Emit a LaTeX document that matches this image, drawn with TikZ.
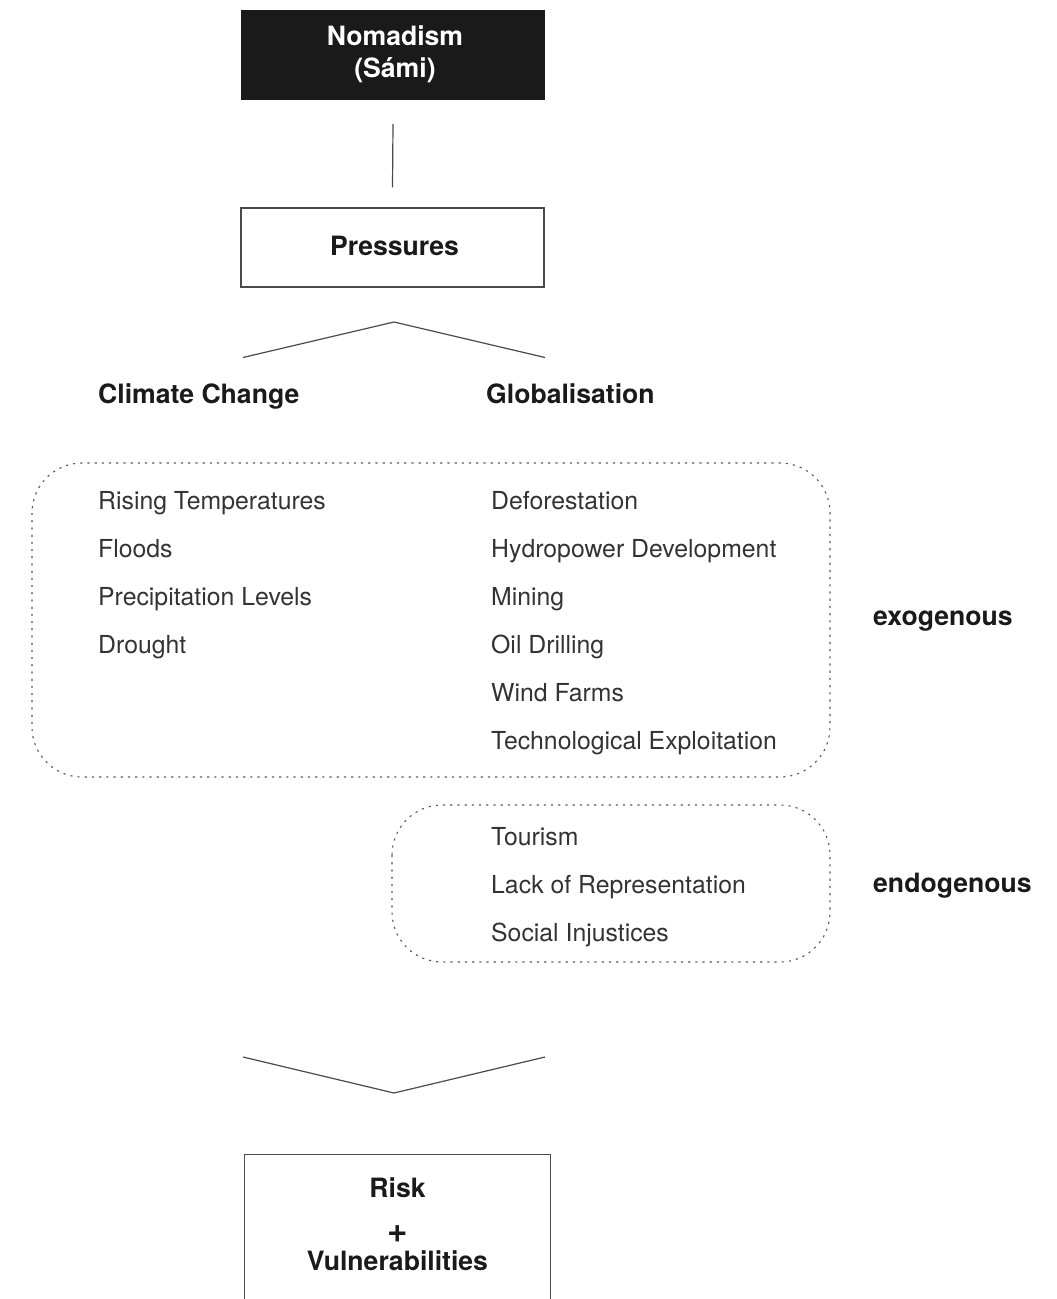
\documentclass[tikz,border=0pt]{standalone}
\usepackage{fontspec}
\setmainfont{TeX Gyre Heros}
\definecolor{ink}{HTML}{1A1A1A}
\definecolor{txt}{HTML}{333333}
\definecolor{rule}{HTML}{4A4A4A}
\definecolor{dots}{HTML}{5A5A5A}
\tikzset{
  hd/.style={inner sep=0pt, text=ink, font=\fontsize{26.6}{31}\selectfont\bfseries},
  item/.style={inner sep=0pt, anchor=base west, text=txt, font=\fontsize{24.8}{29}\selectfont},
  boxline/.style={draw=rule, line width=1.3pt},
  conn/.style={draw=rule, line width=1.2pt},
  dotbox/.style={draw=dots, line width=1.1pt, dash pattern=on 2.2pt off 5pt, rounded corners=50pt},
}
\begin{document}
\begin{tikzpicture}[x=1pt,y=-1pt]
\useasboundingbox (0,0) rectangle (1057,1299);

% top box
\node[fill=ink, minimum width=304pt, minimum height=90pt, inner sep=0pt] (nomad) at (393,55) {};
\node[hd, text=white, anchor=base] (nomadA) at (395,45) {Nomadism};
\node[hd, text=white, anchor=base] (nomadB) at (395,77) {(Sámi)};

% pressures
\node[boxline, minimum width=303pt, minimum height=79pt, inner sep=0pt] (press) at (392.5,247.5) {};
\node[hd, anchor=base] (pressT) at (394.5,255) {Pressures};

\draw[conn] ([yshift=-24pt]nomad.south) -- ([yshift=20pt]press.north);

% upper caret
\coordinate (ul) at (243,357.5);
\coordinate (ut) at (394,322);
\coordinate (ur) at (545,357.5);
\draw[conn] (ul) -- (ut) -- (ur);

\node[hd, anchor=base west] (cc) at (98,403) {Climate Change};
\node[hd, anchor=base west] (gl) at (486,403) {Globalisation};

% exogenous box
\coordinate (exA) at (32,463);
\coordinate (exB) at (830,777);
\draw[dotbox] (exA) rectangle (exB);

\node[item] (i1) at (98,509) {Rising Temperatures};
\node[item] (i2) at (98,557) {Floods};
\node[item] (i3) at (98,605) {Precipitation Levels};
\node[item] (i4) at (98,653) {Drought};

\node[item] (j1) at (491,509) {Deforestation};
\node[item] (j2) at (491,557) {Hydropower Development};
\node[item] (j3) at (491,605) {Mining};
\node[item] (j4) at (491,653) {Oil Drilling};
\node[item] (j5) at (491,701) {Wind Farms};
\node[item] (j6) at (491,749) {Technological Exploitation};

\node[hd, anchor=base west] (exo) at (873,625) {exogenous};

% endogenous box
\coordinate (enA) at (392,805);
\coordinate (enB) at (830,962);
\draw[dotbox] (enA) rectangle (enB);

\node[item] (k1) at (491,845) {Tourism};
\node[item] (k2) at (491,893) {Lack of Representation};
\node[item] (k3) at (491,941) {Social Injustices};

\node[hd, anchor=base west] (endo) at (873,892) {endogenous};

% lower caret
\coordinate (ll) at (243,1057);
\coordinate (lb) at (394,1093);
\coordinate (lr) at (545,1057);
\draw[conn] (ll) -- (lb) -- (lr);

% risk box (open at bottom edge)
\node[minimum width=305pt, minimum height=144pt, inner sep=0pt] (risk) at (397.5,1227) {};
\draw[boxline] (risk.south west) -- (risk.north west) -- (risk.north east) -- (risk.south east);
\node[hd, anchor=base] (riskA) at (397.5,1197) {Risk};
\node[hd, anchor=base, font=\fontsize{35}{40}\selectfont\bfseries] (riskB) at (397.5,1242) {+};
\node[hd, anchor=base] (riskC) at (397.5,1270) {Vulnerabilities};
\end{tikzpicture}
\end{document}
